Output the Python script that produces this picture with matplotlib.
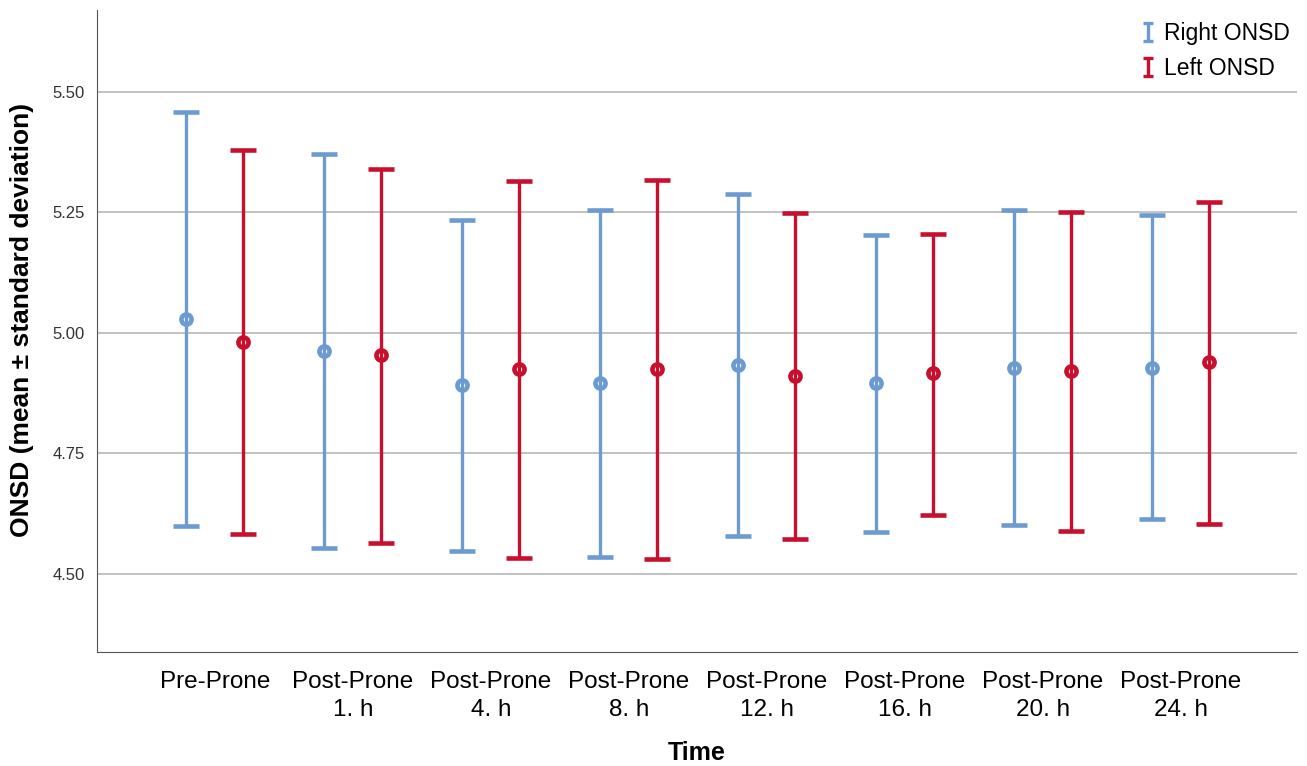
import matplotlib
matplotlib.use("Agg")
import matplotlib.pyplot as plt
from matplotlib.path import Path
from matplotlib.lines import Line2D
import numpy as np

plt.rcParams['font.family'] = ['Liberation Sans', 'DejaVu Sans']

times = ["Pre-Prone", "Post-Prone\n1. h", "Post-Prone\n4. h", "Post-Prone\n8. h",
         "Post-Prone\n12. h", "Post-Prone\n16. h", "Post-Prone\n20. h", "Post-Prone\n24. h"]

right_mean = [5.029, 4.963, 4.892, 4.896, 4.934, 4.896, 4.927, 4.927]
right_low = [4.600, 4.554, 4.548, 4.535, 4.579, 4.587, 4.602, 4.614]
right_high = [5.459, 5.371, 5.234, 5.255, 5.288, 5.203, 5.255, 5.245]

left_mean = [4.981, 4.954, 4.925, 4.925, 4.911, 4.917, 4.921, 4.940]
left_low = [4.583, 4.564, 4.533, 4.531, 4.573, 4.622, 4.589, 4.604]
left_high = [5.380, 5.340, 5.315, 5.317, 5.249, 5.205, 5.251, 5.272]

blue = "#6b9bd0"
red = "#c8102e"

fig = plt.figure(figsize=(13.07, 7.66), dpi=100)
ax = fig.add_axes([0.0742, 0.1488, 0.9178, 0.8382])

x = np.arange(len(times))
off = 0.207


def draw(xpos, mean, low, high, color):
    mean = np.array(mean)
    yerr = [mean - np.array(low), np.array(high) - mean]
    ax.errorbar(xpos, mean, yerr=yerr, fmt='o', color=color, ecolor=color,
                elinewidth=2.4, capsize=9.5, capthick=2.4, markersize=7.3,
                markerfacecolor='none', markeredgecolor=color, markeredgewidth=3.3,
                zorder=3)


draw(x - off, right_mean, right_low, right_high, blue)
draw(x + off, left_mean, left_low, left_high, red)

ax.set_xlim(-0.855, 7.84)
ax.set_ylim(4.338, 5.67)
ax.set_yticks([4.50, 4.75, 5.00, 5.25, 5.50])
ax.set_yticklabels(["4.50", "4.75", "5.00", "5.25", "5.50"])
ax.set_xticks(x)
ax.set_xticklabels(times, fontsize=17.5, linespacing=1.3)
ax.tick_params(axis='y', labelsize=12, length=0, pad=9, colors='#333333')
ax.tick_params(axis='x', length=0, pad=14)
ax.yaxis.grid(True, color='#bdbdbd', linewidth=1.3)
ax.set_axisbelow(True)
for s in ['top', 'right']:
    ax.spines[s].set_visible(False)
ax.spines['left'].set_color('#555555')
ax.spines['bottom'].set_color('#555555')

ax.set_ylabel("ONSD (mean \u00b1 standard deviation)", fontsize=19, fontweight='bold')
ax.yaxis.set_label_coords(-0.0525, 0.517)
ax.set_xlabel("Time", fontsize=18, fontweight='bold')
ax.xaxis.set_label_coords(0.5, -0.138)

ibeam = Path([(-0.5, 1), (0.5, 1), (0, 1), (0, -1), (-0.5, -1), (0.5, -1)],
             [Path.MOVETO, Path.LINETO, Path.MOVETO, Path.LINETO, Path.MOVETO, Path.LINETO])
handles = [Line2D([], [], linestyle='none', marker=ibeam, markersize=13, color=blue,
                  markeredgewidth=2.4),
           Line2D([], [], linestyle='none', marker=ibeam, markersize=13, color=red,
                  markeredgewidth=2.4)]
fig.legend(handles, ["Right ONSD", "Left ONSD"], loc='upper right',
           bbox_to_anchor=(1.003, 0.998), frameon=False, fontsize=16.5,
           handlelength=0.5, handletextpad=0.45, labelspacing=0.5)

fig.savefig("out.png", dpi=100)
